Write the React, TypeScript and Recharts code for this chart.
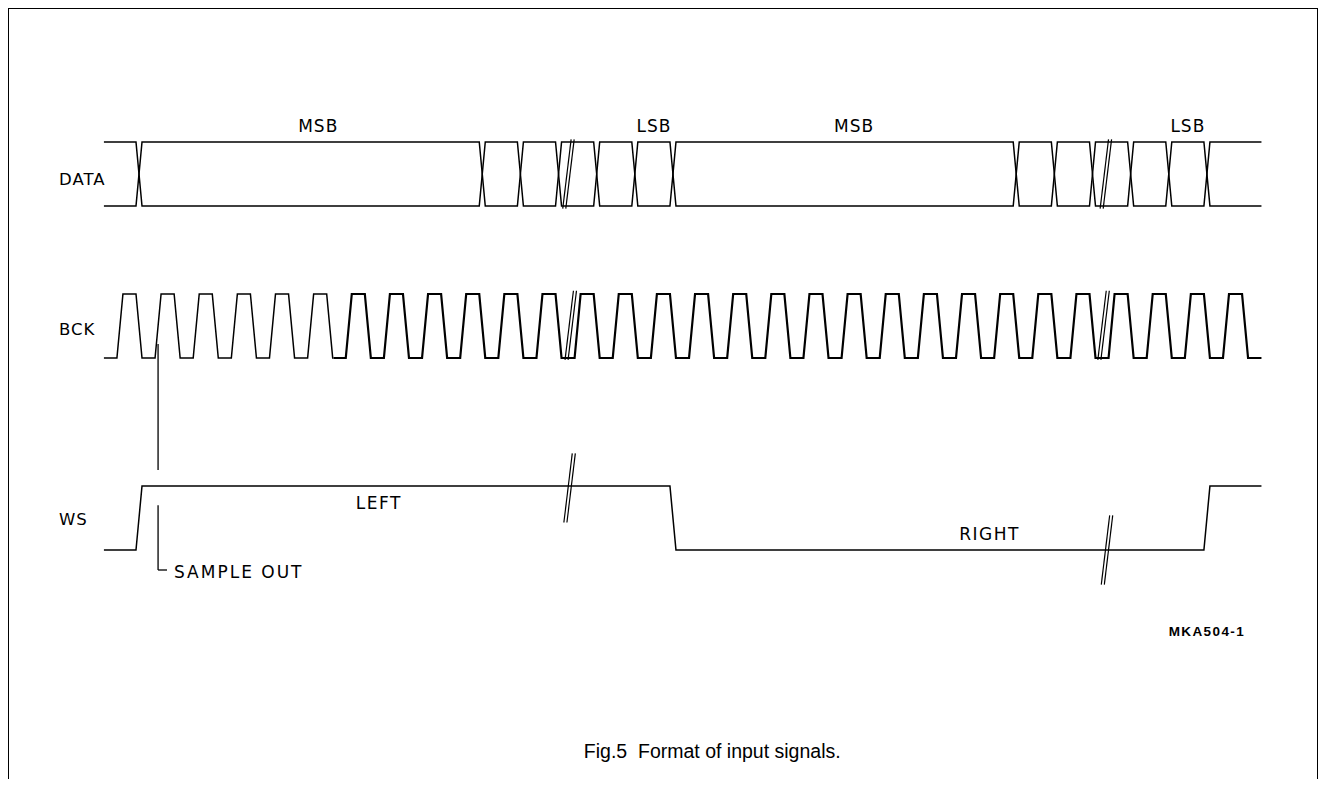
import { LineChart, Line, XAxis, YAxis, ReferenceLine, ReferenceDot } from "recharts";

// time axis in BCK cycles (t = 0 is the first falling edge), levels 0 / 1
const traceStart = -0.92;
const traceEnd = 29.43;

const dataEdges = [0, 9, 10, 11, 12, 13, 14, 23, 24, 25, 26, 27, 28];
const bckRise = [-0.5, 0.5, 1.5, 2.5, 3.5, 4.5, 5.5, 6.5, 7.5, 8.5, 9.5, 10.5, 11.5, 12.5, 13.5, 14.5, 15.5, 16.5, 17.5, 18.5, 19.5, 20.5, 21.5, 22.5, 23.5, 24.5, 25.5, 26.5, 27.5, 28.5];
const bckFall = [0, 1, 2, 3, 4, 5, 6, 7, 8, 9, 10, 11, 12, 13, 14, 15, 16, 17, 18, 19, 20, 21, 22, 23, 24, 25, 26, 27, 28, 29];
const wsEdges = [0, 14, 28];

const dataBreaks = [11.26, 25.35];
const bckBreaks = [11.32, 25.29];
const wsBreaks = [11.29, 25.38];

const signalNames = ["DATA", "BCK", "WS"];
const bitLabels = ["MSB", "LSB", "MSB", "LSB"];
const bitLabelTimes = [4.7, 13.5, 18.75, 27.5];
const channelLabels = ["LEFT", "RIGHT"];
const figId = "MKA504-1";
const caption = "Fig.5  Format of input signals.";

// lane bases (level 0 of each signal)
const DATA_BASE = 5.375;
const BCK_BASE = 3;
const WS_BASE = 0;
const EDGE = 0.079;

// page mapping
const T0 = 139;
const PXT = 38.14;
const V0 = 550;
const PXV = 64;
const XA = -3;
const XB = 30.5;
const YA = -3.5;
const YB = 8;
const W = 1308;
const H = 770;

type Pt = { t: number; v: number };

function trace(edges: number[], init: number, base: number): Pt[] {
  let level = init;
  const pts: Pt[] = [{ t: traceStart, v: base + level }];
  for (const e of edges) {
    pts.push({ t: e - EDGE, v: base + level });
    level = 1 - level;
    pts.push({ t: e + EDGE, v: base + level });
  }
  pts.push({ t: traceEnd, v: base + level });
  return pts;
}

const dataA = trace(dataEdges, 1, DATA_BASE);
const dataB = trace(dataEdges, 0, DATA_BASE);
const wsTrace = trace(wsEdges, 0, WS_BASE);
const bckAll = trace([...bckRise, ...bckFall].sort((a, b) => a - b), 0, BCK_BASE);
const SPLIT = 5.1;
const bckThin = [...bckAll.filter((p) => p.t <= SPLIT), { t: SPLIT, v: BCK_BASE }];
const bckThick = [{ t: SPLIT, v: BCK_BASE }, ...bckAll.filter((p) => p.t > SPLIT)];

const dejavu = "'DejaVu Sans', sans-serif";
const arial = "'Liberation Sans', Arial, sans-serif";

function txt(value: string, anchor: string, size: number, family: string, extra: any = {}) {
  return (props: any) => {
    const vb = props.viewBox || {};
    return (
      <text
        x={vb.x}
        y={vb.y}
        textAnchor={anchor}
        dominantBaseline="central"
        fontSize={size}
        fontFamily={family}
        fill="#000"
        style={{ whiteSpace: "pre" }}
        {...extra}
      >
        {value}
      </text>
    );
  };
}

function BreakMark(t: number, v: number, key: string) {
  return [-0.04, 0.04].map((o, i) => (
    <ReferenceLine
      key={key + i}
      segment={[
        { x: t + o - 0.11, y: v - 0.54 },
        { x: t + o + 0.11, y: v + 0.54 },
      ]}
      stroke="#000"
      strokeWidth={1.2}
    />
  ));
}

export default function App() {
  const left = T0 + PXT * XA - 9;
  const right = W - (T0 + PXT * XB - 9);
  const top = V0 - PXV * YB - 9;
  const bottom = H - (V0 - PXV * YA - 9);
  const labelT = (59 - T0) / PXT;
  const laneLabelV = [5.79, 3.44, 0.47];
  const common = { dataKey: "v", type: "linear" as const, dot: false, isAnimationActive: false, stroke: "#000" };

  return (
    <div
      style={{
        width: 1310,
        height: 771,
        boxSizing: "border-box",
        borderTop: "1px solid #000",
        borderLeft: "1px solid #000",
        borderRight: "1px solid #000",
        background: "#fff",
      }}
    >
      <LineChart width={W} height={H} margin={{ left, right, top, bottom }}>
        <XAxis type="number" dataKey="t" domain={[XA, XB]} hide allowDataOverflow />
        <YAxis type="number" domain={[YA, YB]} hide allowDataOverflow />

        <Line {...common} data={dataA} strokeWidth={1.5} />
        <Line {...common} data={dataB} strokeWidth={1.5} />
        <Line {...common} data={bckThin} strokeWidth={1.5} />
        <Line {...common} data={bckThick} strokeWidth={2.2} />
        <Line {...common} data={wsTrace} strokeWidth={1.5} />

        {dataBreaks.map((t, i) => BreakMark(t, DATA_BASE + 0.5, "d" + i))}
        {bckBreaks.map((t, i) => BreakMark(t, BCK_BASE + 0.51, "b" + i))}
        {BreakMark(wsBreaks[0], WS_BASE + 0.97, "w0")}
        {BreakMark(wsBreaks[1], WS_BASE, "w1")}

        {/* sample out marker */}
        <ReferenceLine segment={[{ x: 0.5, y: 3.22 }, { x: 0.5, y: 1.25 }]} stroke="#000" strokeWidth={1.3} />
        <ReferenceLine segment={[{ x: 0.5, y: 0.7 }, { x: 0.5, y: -0.3125 }]} stroke="#000" strokeWidth={1.3} />
        <ReferenceLine segment={[{ x: 0.5, y: -0.3125 }, { x: 0.734, y: -0.3125 }]} stroke="#000" strokeWidth={1.3} />

        {signalNames.map((s, i) => (
          <ReferenceDot key={s} x={labelT} y={laneLabelV[i]} r={0} stroke="none" fill="none"
            label={txt(s, "start", 16.5, dejavu, { letterSpacing: 1 })} />
        ))}
        {bitLabels.map((s, i) => (
          <ReferenceDot key={"bit" + i} x={bitLabelTimes[i]} y={DATA_BASE + 1.255} r={0} stroke="none" fill="none"
            label={txt(s, "middle", 17, dejavu, { letterSpacing: 1 })} />
        ))}
        <ReferenceDot x={6.29} y={0.73} r={0} stroke="none" fill="none"
          label={txt(channelLabels[0], "middle", 17, dejavu, { letterSpacing: 1.5 })} />
        <ReferenceDot x={22.3} y={0.25} r={0} stroke="none" fill="none"
          label={txt(channelLabels[1], "middle", 17, dejavu, { letterSpacing: 1.5 })} />
        <ReferenceDot x={(174 - T0) / PXT} y={-0.35} r={0} stroke="none" fill="none"
          label={txt("SAMPLE OUT", "start", 17, dejavu, { letterSpacing: 2 })} />
        <ReferenceDot x={28.0} y={-1.28} r={0} stroke="none" fill="none"
          label={txt(figId, "middle", 13.5, arial, { fontWeight: "bold", letterSpacing: 1.4 })} />
        <ReferenceDot x={15.03} y={-3.14} r={0} stroke="none" fill="none"
          label={txt(caption, "middle", 19.5, arial)} />
      </LineChart>
    </div>
  );
}
